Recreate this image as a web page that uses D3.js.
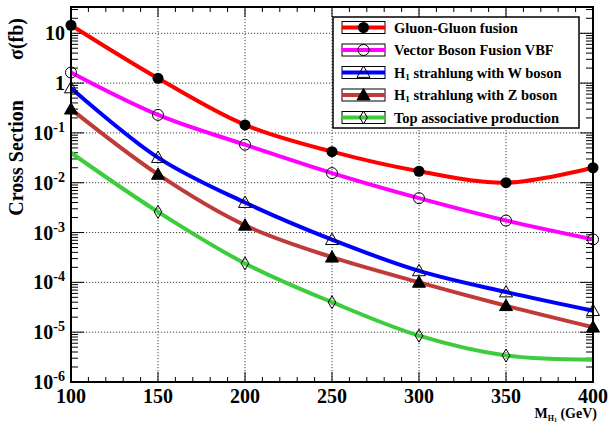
<!DOCTYPE html>
<html>
<head>
<meta charset="utf-8">
<script src="https://cdn.jsdelivr.net/npm/d3@7"></script>
<style>
  html, body { margin: 0; padding: 0; background: #fff; }
  svg { display: block; font-family: "Liberation Serif", "Times New Roman", serif; font-weight: bold; }
</style>
</head>
<body>
<svg id="chart" width="616" height="425"></svg>
<script>
// Higgs-like scalar H1 production cross sections (fb) vs mass (GeV)
const masses = [100, 150, 200, 250, 300, 350, 400];
const ggFusion = [14.5, 1.25, 0.145, 0.042, 0.017, 0.010, 0.020];
const vbfFusion = [1.63, 0.23, 0.058, 0.0156, 0.0049, 0.00174, 0.00073];
const wStrahlung = [0.80, 0.032, 0.0040, 0.00072, 0.00017, 0.000064, 0.000027];
const zStrahlung = [0.30, 0.0147, 0.0014, 0.00032, 0.00010, 0.000034, 0.0000126];
const topAssoc = [0.040, 0.0026, 0.00024, 0.000040, 0.0000085, 0.0000034, 0.0000028];
const topAssocMarked = [150, 200, 250, 300, 350];
const yTickExponents = [-6, -5, -4, -3, -2, -1, 0, 1];
const xTickLabels = [100, 150, 200, 250, 300, 350, 400];

const series = [
  { name: "Gluon-Gluon fusion", values: ggFusion, color: "#ff0000", marker: "circleFilled", marked: masses },
  { name: "Vector Boson Fusion VBF", values: vbfFusion, color: "#ff00ff", marker: "circleOpen", marked: masses },
  { name: "H|1| strahlung with W boson", values: wStrahlung, color: "#0000ff", marker: "triOpen", marked: masses },
  { name: "H|1| strahlung with Z boson", values: zStrahlung, color: "#c03a3a", marker: "triFilled", marked: masses },
  { name: "Top associative production", values: topAssoc, color: "#3ccc3c", marker: "diamond", marked: topAssocMarked }
];

const svg = d3.select("#chart");
const L = 71, R = 593, T = 7, B = 382;

const x = d3.scaleLinear().domain([100, 400]).range([L, R]);
const y = d3.scaleLog().domain([1e-6, 33.7]).range([B, T]);

// dotted grid
const grid = svg.append("g");
[150, 200, 250, 300, 350].forEach(v => {
  grid.append("line").attr("x1", x(v)).attr("x2", x(v)).attr("y1", T).attr("y2", B)
    .attr("stroke", "#444").attr("stroke-width", 1).attr("stroke-dasharray", "1.2,1.8");
});
yTickExponents.filter(e => e > -6).forEach(e => {
  grid.append("line").attr("x1", L).attr("x2", R).attr("y1", y(Math.pow(10, e))).attr("y2", y(Math.pow(10, e)))
    .attr("stroke", "#444").attr("stroke-width", 1).attr("stroke-dasharray", "1.2,1.8");
});

// axis ticks on all four sides
const ticks = svg.append("g").attr("stroke", "#000").attr("stroke-width", 1);
d3.range(100, 401, 10).forEach(v => {
  const major = v % 50 === 0;
  const len = major ? 10 : 5;
  ticks.append("line").attr("x1", x(v)).attr("x2", x(v)).attr("y1", B).attr("y2", B - len);
  ticks.append("line").attr("x1", x(v)).attr("x2", x(v)).attr("y1", T).attr("y2", T + len);
});
for (let e = -6; e <= 1; e++) {
  for (let m = 1; m <= 9; m++) {
    const v = m * Math.pow(10, e);
    if (v > 33.7) continue;
    const len = m === 1 ? 13 : 7;
    const yy = y(v);
    ticks.append("line").attr("x1", L).attr("x2", L + len).attr("y1", yy).attr("y2", yy);
    ticks.append("line").attr("x1", R).attr("x2", R - len).attr("y1", yy).attr("y2", yy);
  }
}

// curves
const line = d3.line()
  .x((d, i) => x(masses[i]))
  .y(d => y(d))
  .curve(d3.curveCatmullRom.alpha(0.5));

series.forEach(s => {
  svg.append("path").attr("d", line(s.values))
    .attr("fill", "none").attr("stroke", s.color).attr("stroke-width", 4)
    .attr("stroke-linejoin", "round");
});

// frame
svg.append("rect").attr("x", L).attr("y", T).attr("width", R - L).attr("height", B - T)
  .attr("fill", "none").attr("stroke", "#000").attr("stroke-width", 2);

function drawMarker(g, type, cx, cy) {
  if (type === "circleFilled") {
    g.append("circle").attr("cx", cx).attr("cy", cy).attr("r", 5.5).attr("fill", "#000");
  } else if (type === "circleOpen") {
    g.append("circle").attr("cx", cx).attr("cy", cy).attr("r", 5.5).attr("fill", "none")
      .attr("stroke", "#000").attr("stroke-width", 1);
  } else if (type === "triOpen" || type === "triFilled") {
    const s = 6.5;
    g.append("path")
      .attr("d", `M${cx},${cy - s} L${cx + s},${cy + s * 0.75} L${cx - s},${cy + s * 0.75} Z`)
      .attr("fill", type === "triFilled" ? "#000" : "none")
      .attr("stroke", "#000").attr("stroke-width", 1);
  } else if (type === "diamond") {
    g.append("path")
      .attr("d", `M${cx},${cy - 6.5} L${cx + 3.8},${cy} L${cx},${cy + 6.5} L${cx - 3.8},${cy} Z`)
      .attr("fill", "none").attr("stroke", "#000").attr("stroke-width", 1);
  }
}

// markers
const mk = svg.append("g");
series.forEach(s => {
  s.values.forEach((v, i) => {
    if (s.marked.includes(masses[i])) drawMarker(mk, s.marker, x(masses[i]), y(v));
  });
});

// y tick labels: 10^n
const yl = svg.append("g").attr("font-size", 20).attr("text-anchor", "end");
yTickExponents.forEach(e => {
  const yy = y(Math.pow(10, e)) + 7;
  const t = yl.append("text").attr("x", 65).attr("y", yy);
  if (e === 0) t.text("1");
  else if (e === 1) t.text("10");
  else {
    t.append("tspan").text("10");
    t.append("tspan").attr("font-size", 14).attr("dy", -8).text(String(e));
  }
});

// x tick labels
const xl = svg.append("g").attr("font-size", 20).attr("text-anchor", "middle");
xTickLabels.forEach(v => {
  xl.append("text").attr("x", x(v)).attr("y", 403).text(v);
});

// axis titles
const xt = svg.append("text").attr("x", 597).attr("y", 418).attr("text-anchor", "end").attr("font-size", 14);
xt.append("tspan").text("M");
xt.append("tspan").attr("font-size", 8).attr("dy", 3).text("H");
xt.append("tspan").attr("font-size", 6).attr("dy", 1).text("1");
xt.append("tspan").attr("dy", -4).text(" (GeV)");

svg.append("text").attr("transform", "translate(23,18) rotate(-90)")
  .attr("text-anchor", "end").attr("font-size", 20).text("σ(fb)");
svg.append("text").attr("transform", "translate(23,100) rotate(-90)")
  .attr("text-anchor", "end").attr("font-size", 20).text("Cross Section");

// legend
const lg = svg.append("g");
const LX = 333, LY = 17, LW = 246, LH = 111;
lg.append("rect").attr("x", LX).attr("y", LY).attr("width", LW).attr("height", LH)
  .attr("fill", "#fff").attr("stroke", "#000").attr("stroke-width", 1.5);
series.forEach((s, i) => {
  const cy = 27.5 + i * 22.5;
  lg.append("rect").attr("x", 342).attr("y", cy - 6).attr("width", 43).attr("height", 12)
    .attr("fill", "#fff").attr("stroke", "#000").attr("stroke-width", 1);
  lg.append("line").attr("x1", 342).attr("x2", 385).attr("y1", cy).attr("y2", cy)
    .attr("stroke", s.color).attr("stroke-width", 4);
  drawMarker(lg, s.marker, 363.5, cy);
  const t = lg.append("text").attr("x", 394).attr("y", cy + 5).attr("font-size", 14.5);
  const parts = s.name.split("|");
  if (parts.length === 3) {
    t.append("tspan").text(parts[0]);
    t.append("tspan").attr("font-size", 9).attr("dy", 2).text(parts[1]);
    t.append("tspan").attr("dy", -2).text(" " + parts[2]);
  } else {
    t.text(s.name);
  }
});
</script>
</body>
</html>
